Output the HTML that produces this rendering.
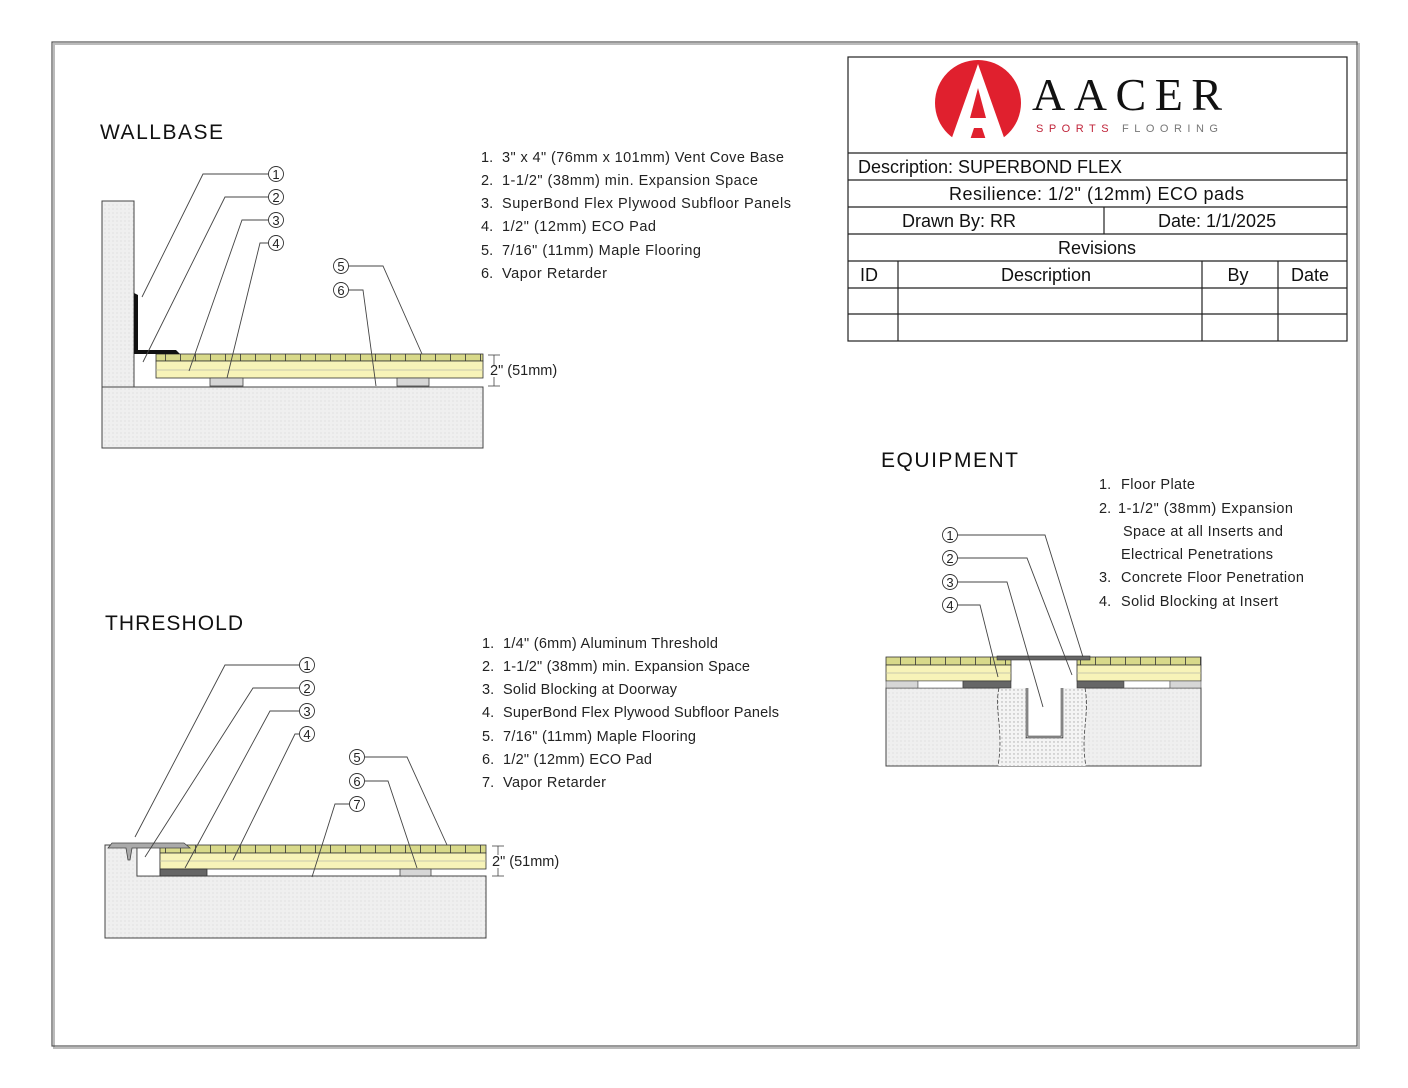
<!DOCTYPE html>
<html><head><meta charset="utf-8"><style>
html,body{margin:0;padding:0;background:#fff;}
svg{display:block;}
.s{font-family:"Liberation Sans",Arial,sans-serif;}
</style></head><body>
<svg width="1408" height="1088" viewBox="0 0 1408 1088" xmlns="http://www.w3.org/2000/svg" class="s" font-family="Liberation Sans, Arial, sans-serif">
<defs>
<pattern id="conc" width="4" height="4" patternUnits="userSpaceOnUse"><rect width="4" height="4" fill="#efefef"/><circle cx="1" cy="1" r="0.6" fill="#d8d8d8"/></pattern>
<pattern id="dots" width="4" height="4" patternUnits="userSpaceOnUse"><rect width="4" height="4" fill="#f4f4f4"/><circle cx="2" cy="2" r="0.7" fill="#aaa"/></pattern>
<pattern id="tick" width="15" height="8" patternUnits="userSpaceOnUse"><rect width="15" height="8" fill="#d8d98a"/><line x1="0.5" y1="0" x2="0.5" y2="8" stroke="#333" stroke-width="0.8"/></pattern>
</defs>
<rect x="0" y="0" width="1408" height="1088" fill="#fff"/>
<rect x="54" y="44" width="1305" height="1004" fill="none" stroke="#bbb" stroke-width="2"/>
<rect x="52" y="42" width="1305" height="1004" fill="none" stroke="#555" stroke-width="1.2"/>

<!-- TITLE BLOCK -->
<g stroke="#222" stroke-width="1.2" fill="none">
<rect x="848" y="57" width="499" height="284"/>
<line x1="848" y1="153" x2="1347" y2="153"/>
<line x1="848" y1="180" x2="1347" y2="180"/>
<line x1="848" y1="207" x2="1347" y2="207"/>
<line x1="848" y1="234" x2="1347" y2="234"/>
<line x1="848" y1="261" x2="1347" y2="261"/>
<line x1="848" y1="288" x2="1347" y2="288"/>
<line x1="848" y1="314" x2="1347" y2="314"/>
<line x1="1104" y1="207" x2="1104" y2="234"/>
<line x1="898" y1="261" x2="898" y2="341"/>
<line x1="1202" y1="261" x2="1202" y2="341"/>
<line x1="1278" y1="261" x2="1278" y2="341"/>
</g>
<g font-size="18" fill="#111">
<text x="858" y="173" textLength="264">Description: SUPERBOND FLEX</text>
<text x="949" y="200" textLength="295">Resilience: 1/2" (12mm) ECO pads</text>
<text x="902" y="227">Drawn By: RR</text>
<text x="1158" y="227">Date: 1/1/2025</text>
<text x="1097" y="254" text-anchor="middle">Revisions</text>
<text x="860" y="281">ID</text>
<text x="1046" y="281" text-anchor="middle">Description</text>
<text x="1238" y="281" text-anchor="middle">By</text>
<text x="1310" y="281" text-anchor="middle">Date</text>
</g>
<!-- logo -->
<circle cx="978" cy="103" r="43" fill="#e0202e"/>
<polygon points="978,64 1007,146 988,146 982,128 974,128 968,146 949,146" fill="#fff"/>
<polygon points="978,88 986,118 970,118" fill="#e0202e"/>
<rect x="955" y="138" width="46" height="8" fill="#fff"/>
<text x="1032" y="110" style="font-family:'Liberation Serif',serif" font-size="46" fill="#111" textLength="190">AACER</text>
<text x="1036" y="132" font-size="11" fill="#c0243a" letter-spacing="5.5">SPORTS</text>
<text x="1122" y="132" font-size="11" fill="#777" letter-spacing="5.5">FLOORING</text>

<!-- WALLBASE -->
<text x="100" y="139" font-size="21" fill="#111" textLength="123">WALLBASE</text>
<g font-size="14.5" fill="#222">
<text x="481" y="162">1.</text><text x="502" y="162" textLength="282">3" x 4" (76mm x 101mm) Vent Cove Base</text>
<text x="481" y="185">2.</text><text x="502" y="185" textLength="256">1-1/2" (38mm) min. Expansion Space</text>
<text x="481" y="208">3.</text><text x="502" y="208" textLength="289">SuperBond Flex Plywood Subfloor Panels</text>
<text x="481" y="231">4.</text><text x="502" y="231" textLength="154">1/2" (12mm) ECO Pad</text>
<text x="481" y="255">5.</text><text x="502" y="255" textLength="199">7/16" (11mm) Maple Flooring</text>
<text x="481" y="278">6.</text><text x="502" y="278" textLength="105">Vapor Retarder</text>
</g>
<rect x="102" y="201" width="32" height="186" fill="url(#conc)" stroke="#444"/>
<rect x="102" y="387" width="381" height="61" fill="url(#conc)" stroke="#444"/>
<rect x="156" y="354" width="327" height="7" fill="url(#tick)" stroke="#333" stroke-width="0.8"/>
<rect x="156" y="361" width="327" height="17" fill="#f7f3b8" stroke="#333" stroke-width="0.8"/>
<line x1="156" y1="370" x2="483" y2="370" stroke="#bba" stroke-width="0.8"/>
<rect x="210" y="378" width="33" height="8" fill="#d6d6d6" stroke="#444" stroke-width="0.8"/>
<rect x="397" y="378" width="32" height="8" fill="#d6d6d6" stroke="#444" stroke-width="0.8"/>
<path d="M134,293 L138,295 L138,350 L176,350 L180,354 L134,354 Z" fill="#111"/>
<g stroke="#444" stroke-width="0.8">
<line x1="488" y1="355" x2="500" y2="355"/><line x1="488" y1="386" x2="500" y2="386"/><line x1="494" y1="355" x2="494" y2="365"/><line x1="494" y1="377" x2="494" y2="386"/>
</g>
<text x="490" y="375" font-size="14.5" fill="#222">2" (51mm)</text>
<g fill="none" stroke="#444" stroke-width="0.9">
<polyline points="268,174 203,174 142,297"/>
<polyline points="268,197 225,197 143,362"/>
<polyline points="268,220 242,220 189,371"/>
<polyline points="268,243 260,243 227,378"/>
<polyline points="348,266 383,266 422,354"/>
<polyline points="348,290 363,290 376,386"/>
</g>
<g fill="#fff" stroke="#333" stroke-width="0.9">
<circle cx="276" cy="174" r="7.5"/><circle cx="276" cy="197" r="7.5"/><circle cx="276" cy="220" r="7.5"/><circle cx="276" cy="243" r="7.5"/>
<circle cx="341" cy="266" r="7.5"/><circle cx="341" cy="290" r="7.5"/>
</g>
<g font-size="13" fill="#222" text-anchor="middle">
<text x="276" y="179">1</text><text x="276" y="202">2</text><text x="276" y="225">3</text><text x="276" y="248">4</text>
<text x="341" y="271">5</text><text x="341" y="295">6</text>
</g>

<!-- THRESHOLD -->
<text x="105" y="630" font-size="21" fill="#111" textLength="138">THRESHOLD</text>
<g font-size="14.5" fill="#222">
<text x="482" y="648">1.</text><text x="503" y="648" textLength="215">1/4" (6mm) Aluminum Threshold</text>
<text x="482" y="671">2.</text><text x="503" y="671" textLength="247">1-1/2" (38mm) min. Expansion Space</text>
<text x="482" y="694">3.</text><text x="503" y="694" textLength="174">Solid Blocking at Doorway</text>
<text x="482" y="717">4.</text><text x="503" y="717" textLength="276">SuperBond Flex Plywood Subfloor Panels</text>
<text x="482" y="741">5.</text><text x="503" y="741" textLength="193">7/16" (11mm) Maple Flooring</text>
<text x="482" y="764">6.</text><text x="503" y="764" textLength="149">1/2" (12mm) ECO Pad</text>
<text x="482" y="787">7.</text><text x="503" y="787" textLength="103">Vapor Retarder</text>
</g>
<path d="M105,845 L137,845 L137,876 L486,876 L486,938 L105,938 Z" fill="url(#conc)" stroke="#444"/>
<rect x="137" y="845" width="23" height="31" fill="#fff" stroke="#333" stroke-width="0.8"/>
<rect x="160" y="845" width="326" height="8" fill="url(#tick)" stroke="#333" stroke-width="0.8"/>
<rect x="160" y="853" width="326" height="16" fill="#f7f3b8" stroke="#333" stroke-width="0.8"/>
<line x1="160" y1="861" x2="486" y2="861" stroke="#bba" stroke-width="0.8"/>
<rect x="160" y="869" width="47" height="7" fill="#666" stroke="#333" stroke-width="0.8"/>
<rect x="400" y="869" width="31" height="7" fill="#d6d6d6" stroke="#444" stroke-width="0.8"/>
<path d="M108,848 L112,843 L184,843 L190,848 L132,848 L130,860 L128,860 L126,848 Z" fill="#aaa" stroke="#444" stroke-width="0.8"/>
<g stroke="#444" stroke-width="0.8">
<line x1="492" y1="846" x2="504" y2="846"/><line x1="492" y1="876" x2="504" y2="876"/><line x1="498" y1="846" x2="498" y2="855"/><line x1="498" y1="868" x2="498" y2="876"/>
</g>
<text x="492" y="866" font-size="14.5" fill="#222">2" (51mm)</text>
<g fill="none" stroke="#444" stroke-width="0.9">
<polyline points="299,665 225,665 135,837"/>
<polyline points="299,688 253,688 145,857"/>
<polyline points="299,711 270,711 185,868"/>
<polyline points="299,734 295,734 233,860"/>
<polyline points="365,757 407,757 447,845"/>
<polyline points="365,781 388,781 417,868"/>
<polyline points="349,804 335,804 312,877"/>
</g>
<g fill="#fff" stroke="#333" stroke-width="0.9">
<circle cx="307" cy="665" r="7.5"/><circle cx="307" cy="688" r="7.5"/><circle cx="307" cy="711" r="7.5"/><circle cx="307" cy="734" r="7.5"/>
<circle cx="357" cy="757" r="7.5"/><circle cx="357" cy="781" r="7.5"/><circle cx="357" cy="804" r="7.5"/>
</g>
<g font-size="13" fill="#222" text-anchor="middle">
<text x="307" y="670">1</text><text x="307" y="693">2</text><text x="307" y="716">3</text><text x="307" y="739">4</text>
<text x="357" y="762">5</text><text x="357" y="786">6</text><text x="357" y="809">7</text>
</g>

<!-- EQUIPMENT -->
<text x="881" y="467" font-size="21" fill="#111" textLength="137">EQUIPMENT</text>
<g font-size="14.5" fill="#222">
<text x="1099" y="489">1.</text><text x="1121" y="489" textLength="74">Floor Plate</text>
<text x="1099" y="513">2.</text><text x="1118" y="513" textLength="175">1-1/2" (38mm) Expansion</text>
<text x="1123" y="536" textLength="160">Space at all Inserts and</text>
<text x="1121" y="559" textLength="152">Electrical Penetrations</text>
<text x="1099" y="582">3.</text><text x="1121" y="582" textLength="183">Concrete Floor Penetration</text>
<text x="1099" y="606">4.</text><text x="1121" y="606" textLength="157">Solid Blocking at Insert</text>
</g>
<rect x="886" y="688" width="315" height="78" fill="url(#conc)" stroke="#444"/>
<path d="M999,688 C994,710 1004,730 998,766 L1086,766 C1080,735 1090,715 1085,688 Z" fill="url(#dots)"/>
<path d="M999,688 C994,710 1004,730 998,766 M1085,688 C1090,715 1080,735 1086,766" fill="none" stroke="#444" stroke-dasharray="4,2" stroke-width="0.8"/>
<rect x="1011" y="681" width="66" height="7" fill="#fff"/>
<path d="M1027,688 L1027,737 L1062,737 L1062,688" fill="#fff" stroke="#333" stroke-width="2.5"/>
<path d="M1027,688 L1027,737 L1062,737 L1062,688" fill="none" stroke="#fff" stroke-width="0.8"/>
<rect x="886" y="657" width="125" height="8" fill="url(#tick)" stroke="#333" stroke-width="0.8"/>
<rect x="886" y="665" width="125" height="16" fill="#f7f3b8" stroke="#333" stroke-width="0.8"/>
<rect x="1077" y="657" width="124" height="8" fill="url(#tick)" stroke="#333" stroke-width="0.8"/>
<rect x="1077" y="665" width="124" height="16" fill="#f7f3b8" stroke="#333" stroke-width="0.8"/>
<line x1="886" y1="673" x2="1011" y2="673" stroke="#bba" stroke-width="0.8"/>
<line x1="1077" y1="673" x2="1201" y2="673" stroke="#bba" stroke-width="0.8"/>
<rect x="886" y="681" width="32" height="7" fill="#d6d6d6" stroke="#555" stroke-width="0.6"/>
<rect x="918" y="681" width="45" height="7" fill="#fff" stroke="#555" stroke-width="0.6"/>
<rect x="963" y="681" width="48" height="7" fill="#666" stroke="#333" stroke-width="0.6"/>
<rect x="1077" y="681" width="47" height="7" fill="#666" stroke="#333" stroke-width="0.6"/>
<rect x="1124" y="681" width="46" height="7" fill="#fff" stroke="#555" stroke-width="0.6"/>
<rect x="1170" y="681" width="31" height="7" fill="#d6d6d6" stroke="#555" stroke-width="0.6"/>
<rect x="997" y="656" width="93" height="4" fill="#666" stroke="#333" stroke-width="0.6"/>
<g fill="none" stroke="#444" stroke-width="0.9">
<polyline points="957,535 1045,535 1083,657"/>
<polyline points="957,558 1027,558 1072,675"/>
<polyline points="957,582 1007,582 1043,707"/>
<polyline points="957,605 980,605 998,677"/>
</g>
<g fill="#fff" stroke="#333" stroke-width="0.9">
<circle cx="950" cy="535" r="7.5"/><circle cx="950" cy="558" r="7.5"/><circle cx="950" cy="582" r="7.5"/><circle cx="950" cy="605" r="7.5"/>
</g>
<g font-size="13" fill="#222" text-anchor="middle">
<text x="950" y="540">1</text><text x="950" y="563">2</text><text x="950" y="587">3</text><text x="950" y="610">4</text>
</g>
</svg>
</body></html>
